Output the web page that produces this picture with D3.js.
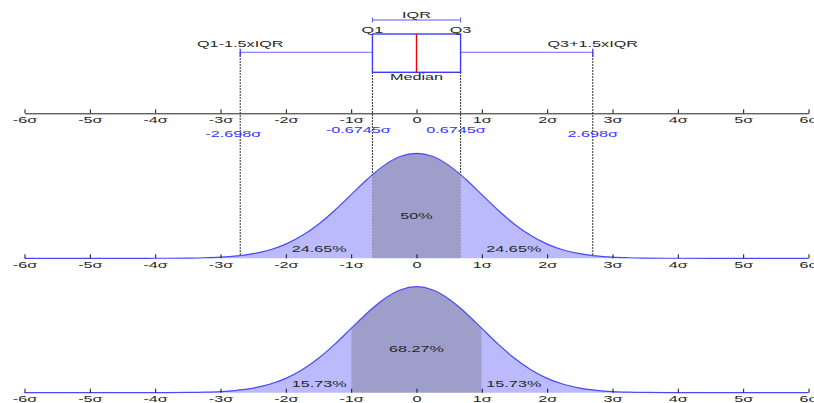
<!DOCTYPE html>
<html>
<head>
<meta charset="utf-8">
<script src="https://cdn.jsdelivr.net/npm/d3@7"></script>
<style>
  html, body { margin: 0; padding: 0; background: #fff; }
  svg { display: block; }
  text { font-family: "Liberation Sans", Arial, sans-serif; font-size: 9px; }
</style>
</head>
<body>
<svg id="chart" width="814" height="403"></svg>
<script>
// Axis ticks, in units of sigma
const sigmaTicks = [-6, -5, -4, -3, -2, -1, 0, 1, 2, 3, 4, 5, 6];
const tickLabels = ["-6σ", "-5σ", "-4σ", "-3σ", "-2σ", "-1σ", "0", "1σ", "2σ", "3σ", "4σ", "5σ", "6σ"];

// Box plot of a standard normal
const quartiles = [-0.6745, 0.6745];
const median = 0;
const whiskers = [-2.698, 2.698];
const markValues = [-2.698, -0.6745, 0.6745, 2.698];
const markLabels = ["-2.698σ", "-0.6745σ", "0.6745σ", "2.698σ"];

// Standard normal density at sample points
const curveX = [-6, -5, -4, -3.5, -3.25, -3, -2.75, -2.698, -2.5, -2.25, -2, -1.75, -1.5, -1.25, -1,
  -0.75, -0.6745, -0.5, -0.25, 0, 0.25, 0.5, 0.6745, 0.75, 1, 1.25, 1.5, 1.75, 2, 2.25, 2.5,
  2.698, 2.75, 3, 3.25, 3.5, 4, 5, 6];
const curveDensity = [0, 0, 0.0001, 0.0009, 0.0020, 0.0044, 0.0091, 0.0105, 0.0175, 0.0317, 0.0540,
  0.0863, 0.1295, 0.1826, 0.2420, 0.3011, 0.3178, 0.3521, 0.3867, 0.3989, 0.3867, 0.3521, 0.3178,
  0.3011, 0.2420, 0.1826, 0.1295, 0.0863, 0.0540, 0.0317, 0.0175, 0.0105, 0.0091, 0.0044, 0.0020,
  0.0009, 0.0001, 0, 0];

// Shaded regions and their shares
const iqrBounds = [-6, -0.6745, 0.6745, 6];
const iqrShares = ["24.65%", "50%", "24.65%"];
const sigmaBounds = [-6, -1, 1, 6];
const sigmaShares = ["15.73%", "68.27%", "15.73%"];

const svg = d3.select("#chart");
const x = d3.scaleLinear().domain([-6, 6]).range([24.5, 808.5]);
const points = curveX.map((v, i) => ({ x: v, y: curveDensity[i] }));

const TEXT_STRETCH = 1.8;
const textColor = "#262626";
const blue = "#4848ff";

// Widen glyphs the way the original renderer does
function stretch(sel) {
  sel.each(function () {
    const len = this.getComputedTextLength();
    d3.select(this).attr("textLength", len * TEXT_STRETCH).attr("lengthAdjust", "spacingAndGlyphs");
  });
}

function label(g, txt, cx, cy, color) {
  g.append("text").attr("x", cx).attr("y", cy).attr("dy", "0.35em")
    .attr("text-anchor", "middle").attr("fill", color || textColor).text(txt).call(stretch);
}

function drawAxis(baseY, showDomain) {
  const axis = d3.axisBottom(x).tickValues(sigmaTicks)
    .tickFormat((d, i) => tickLabels[i]).tickSizeInner(-4).tickSizeOuter(0).tickPadding(3.2);
  const g = svg.append("g").attr("transform", `translate(0,${baseY})`).call(axis);
  g.select(".domain").attr("stroke", showDomain ? "#222" : "none");
  g.selectAll(".tick line").attr("stroke", "#111");
  g.selectAll(".tick text").attr("fill", textColor).style("font-size", "9px")
    .style("font-family", '"Liberation Sans", Arial, sans-serif').call(stretch);
  return g;
}

function drawDensity(baseY, peakY, bounds, shares, shareY) {
  const y = d3.scaleLinear().domain([0, 0.3989]).range([baseY, peakY]);
  const area = d3.area().curve(d3.curveMonotoneX).x(d => x(d.x)).y0(baseY).y1(d => y(d.y));
  const line = d3.line().curve(d3.curveMonotoneX).x(d => x(d.x)).y(d => y(d.y));
  const g = svg.append("g");
  for (let i = 0; i < bounds.length - 1; i++) {
    const seg = points.filter(p => p.x >= bounds[i] && p.x <= bounds[i + 1]);
    g.append("path").datum(seg).attr("d", area)
      .attr("fill", i === 1 ? "#9e9ecb" : "#babafd").attr("stroke", "none");
  }
  g.append("path").datum(points).attr("d", line)
    .attr("fill", "none").attr("stroke", blue).attr("stroke-width", 1.2);
  drawAxis(baseY, false);
  const tl = svg.append("g");
  label(tl, shares[0], x(-1.49), baseY - 9.2);
  label(tl, shares[1], x(0), shareY);
  label(tl, shares[2], x(1.49), baseY - 9.2);
}

// ---- Box plot ----
const boxTop = 34, boxBottom = 72.3, whiskerY = 52.3, middleBase = 258.3;
const bp = svg.append("g");

// dotted guides down to the middle axis
quartiles.forEach(q => {
  bp.append("line").attr("x1", x(q)).attr("x2", x(q)).attr("y1", boxBottom).attr("y2", middleBase)
    .attr("stroke", "#000").attr("stroke-width", 1.1).attr("stroke-dasharray", "1.5,1.5");
});
whiskers.forEach(w => {
  bp.append("line").attr("x1", x(w)).attr("x2", x(w)).attr("y1", whiskerY).attr("y2", middleBase)
    .attr("stroke", "#000").attr("stroke-width", 1.1).attr("stroke-dasharray", "1.5,1.5");
});

// whiskers
bp.append("line").attr("x1", x(whiskers[0])).attr("x2", x(quartiles[0])).attr("y1", whiskerY).attr("y2", whiskerY)
  .attr("stroke", "#6b6bff").attr("stroke-width", 1);
bp.append("line").attr("x1", x(quartiles[1])).attr("x2", x(whiskers[1])).attr("y1", whiskerY).attr("y2", whiskerY)
  .attr("stroke", "#6b6bff").attr("stroke-width", 1);
whiskers.forEach(w => {
  bp.append("line").attr("x1", x(w)).attr("x2", x(w)).attr("y1", whiskerY - 3.5).attr("y2", whiskerY + 4.5)
    .attr("stroke", "#3a3aff").attr("stroke-width", 1.3);
});

// box and median
bp.append("rect").attr("x", x(quartiles[0])).attr("y", boxTop)
  .attr("width", x(quartiles[1]) - x(quartiles[0])).attr("height", boxBottom - boxTop)
  .attr("fill", "none").attr("stroke", "#3c3cff").attr("stroke-width", 1.4);
bp.append("line").attr("x1", x(median)).attr("x2", x(median)).attr("y1", boxTop).attr("y2", boxBottom)
  .attr("stroke", "#f00000").attr("stroke-width", 1.4);

// IQR bracket
const iqrY = 20;
bp.append("line").attr("x1", x(quartiles[0])).attr("x2", x(quartiles[1])).attr("y1", iqrY).attr("y2", iqrY)
  .attr("stroke", "#5a5aff").attr("stroke-width", 1);
quartiles.forEach(q => {
  bp.append("line").attr("x1", x(q)).attr("x2", x(q)).attr("y1", iqrY - 2.5).attr("y2", iqrY + 2.5)
    .attr("stroke", "#5a5aff").attr("stroke-width", 1);
});

label(bp, "IQR", x(median), 15.3);
label(bp, "Q1", x(quartiles[0]), 30);
label(bp, "Q3", x(quartiles[1]), 30);
label(bp, "Median", x(median), 77);
label(bp, "Q1-1.5xIQR", x(whiskers[0]), 43.5);
label(bp, "Q3+1.5xIQR", x(whiskers[1]), 43.5);

// top axis with sigma positions of the box plot
drawAxis(113.3, true);
const markDx = [-7, -14, -4.5, 0];
const markDy = [133.5, 130, 130, 133.5];
markValues.forEach((v, i) => label(bp, markLabels[i], x(v) + markDx[i], markDy[i], "#3535ff"));

// ---- Density panels ----
drawDensity(middleBase, 153.3, iqrBounds, iqrShares, 215.5);
drawDensity(392.7, 286.7, sigmaBounds, sigmaShares, 349);
</script>
</body>
</html>
